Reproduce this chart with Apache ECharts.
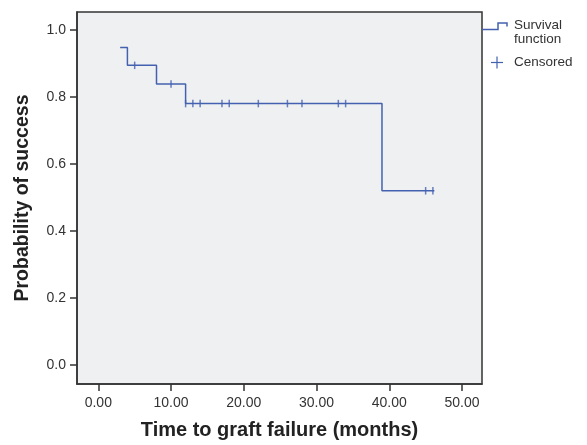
<!DOCTYPE html>
<html>
<head>
<meta charset="utf-8">
<script src="https://cdn.jsdelivr.net/npm/echarts@6/dist/echarts.min.js"></script>
<style>html,body{margin:0;padding:0;background:#fff;}#c{width:587px;height:445px;}</style>
</head>
<body>
<div id="c"></div>
<script>
// Kaplan-Meier step curve
var stepTimes = [3, 4, 8, 12, 39, 46.2];
var stepSurvival = [0.947, 0.894, 0.838, 0.78, 0.52, 0.52];
// Censored observations
var censorTimes = [5, 10, 12, 13, 14, 17, 18, 22, 26, 28, 33, 34, 45, 46];
var censorSurvival = [0.894, 0.838, 0.78, 0.78, 0.78, 0.78, 0.78, 0.78, 0.78, 0.78, 0.78, 0.78, 0.52, 0.52];
// Tick labels
var xTicks = [0, 10, 20, 30, 40, 50];
var yTicks = [0, 0.2, 0.4, 0.6, 0.8, 1.0];

var lineColor = '#4461b0';
var font = 'Liberation Sans, Arial, sans-serif';

var chart = echarts.init(document.getElementById('c'));
chart.setOption({
  animation: false,
  grid: {
    left: 77, top: 12, right: 105, bottom: 57,
    show: true, backgroundColor: '#eff0f2', borderColor: '#333', borderWidth: 1.5
  },
  xAxis: {
    type: 'value', min: -2.93, max: 52.75,
    name: 'Time to graft failure (months)', nameLocation: 'middle', nameGap: 36,
    nameTextStyle: { fontFamily: font, fontSize: 20, fontWeight: 'bold', color: '#222' },
    axisLine: { show: true, onZero: false, lineStyle: { color: '#333', width: 1.5 } },
    splitLine: { show: false },
    axisTick: { show: true, inside: false, length: 7, customValues: xTicks, lineStyle: { color: '#333', width: 1.5 } },
    axisLabel: { customValues: xTicks, margin: 12, fontFamily: font, fontSize: 14, color: '#333',
      formatter: function (v) { return v.toFixed(2); } }
  },
  yAxis: {
    type: 'value', min: -0.056, max: 1.053,
    name: 'Probability of success', nameLocation: 'middle', nameGap: 44,
    nameTextStyle: { fontFamily: font, fontSize: 19.5, fontWeight: 'bold', color: '#222' },
    axisLine: { show: true, onZero: false, lineStyle: { color: '#333', width: 1.5 } },
    splitLine: { show: false },
    axisTick: { show: true, inside: false, length: 7, customValues: yTicks, lineStyle: { color: '#333', width: 1.5 } },
    axisLabel: { customValues: yTicks, margin: 11, fontFamily: font, fontSize: 14, color: '#333',
      formatter: function (v) { return v.toFixed(1); } }
  },
  series: [
    {
      name: 'Survival function', type: 'line', step: 'end', showSymbol: false,
      lineStyle: { color: lineColor, width: 1.5 },
      data: stepTimes.map(function (t, i) { return [t, stepSurvival[i]]; })
    },
    {
      name: 'Censored', type: 'scatter', symbol: 'rect', symbolSize: [1.5, 7.5],
      itemStyle: { color: lineColor },
      data: censorTimes.map(function (t, i) { return [t, censorSurvival[i]]; })
    }
  ],
  graphic: [
    { type: 'polyline', shape: { points: [[482, 29.5], [498, 29.5], [498, 23], [507, 23], [507, 26.5]] },
      style: { stroke: lineColor, lineWidth: 1.5, fill: null } },
    { type: 'text', left: 514, top: 18, style: { text: 'Survival\nfunction', font: '13.5px ' + font, fill: '#333', lineHeight: 14 } },
    { type: 'line', shape: { x1: 491, y1: 62.5, x2: 503, y2: 62.5 }, style: { stroke: lineColor, lineWidth: 1.2 } },
    { type: 'line', shape: { x1: 497, y1: 56.5, x2: 497, y2: 68.5 }, style: { stroke: lineColor, lineWidth: 1.2 } },
    { type: 'text', left: 514, top: 55, style: { text: 'Censored', font: '13.5px ' + font, fill: '#333' } }
  ]
});
</script>
</body>
</html>
